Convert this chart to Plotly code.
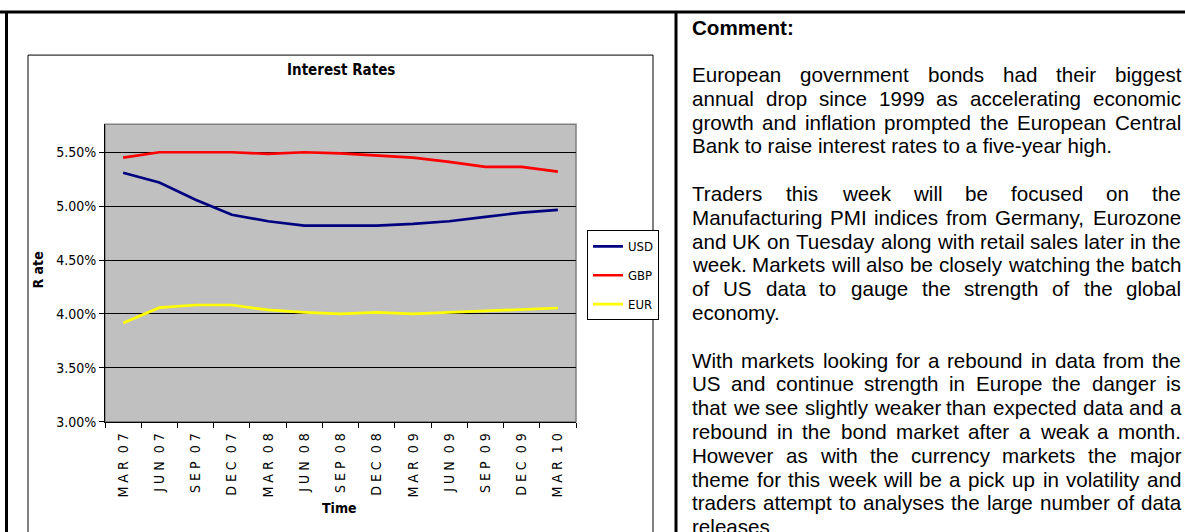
import plotly.graph_objects as go

# ---------------- data ----------------
categories = ["MAR 07", "JUN 07", "SEP 07", "DEC 07", "MAR 08", "JUN 08", "SEP 08",
              "DEC 08", "MAR 09", "JUN 09", "SEP 09", "DEC 09", "MAR 10"]
usd = [5.31, 5.22, 5.06, 4.92, 4.86, 4.82, 4.82, 4.82, 4.835, 4.86, 4.90, 4.94, 4.965]
gbp = [5.45, 5.50, 5.50, 5.50, 5.485, 5.50, 5.49, 5.47, 5.45, 5.41, 5.365, 5.365, 5.32]
eur = [3.915, 4.058, 4.083, 4.083, 4.037, 4.015, 4.00, 4.015, 4.00, 4.015, 4.028, 4.04, 4.055]
series_names = ["USD", "GBP", "EUR"]
y_tick_values = [3.0, 3.5, 4.0, 4.5, 5.0, 5.5]
y_tick_labels = ["3.00%", "3.50%", "4.00%", "4.50%", "5.00%", "5.50%"]
chart_title = "Interest Rates"
x_title = "Time"
y_title = "Rate"
comment_heading = "Comment:"
comment_paragraphs = [
    ["European government bonds had their biggest",
     "annual drop since 1999 as accelerating economic",
     "growth and inflation prompted the European Central",
     "Bank to raise interest rates to a five-year high."],
    ["Traders this week will be focused on the",
     "Manufacturing PMI indices from Germany, Eurozone",
     "and UK on Tuesday along with retail sales later in the",
     "week. Markets will also be closely watching the batch",
     "of US data to gauge the strength of the global",
     "economy."],
    ["With markets looking for a rebound in data from the",
     "US and continue strength in Europe the danger is",
     "that we see slightly weaker than expected data and a",
     "rebound in the bond market after a weak a month.",
     "However as with the currency markets the major",
     "theme for this week will be a pick up in volatility and",
     "traders attempt to analyses the large number of data",
     "releases"],
]

# ---------------- layout helpers ----------------
FW, FH = 1185, 532
VS = 1.017  # vertical calibration


def px(x):
    return x / FW


def py(y):
    return 1 - (y * VS) / FH


NARROW = "Liberation Sans Narrow, Arial Narrow, DejaVu Sans Condensed, sans-serif"
SANS = "Liberation Sans, Arial, sans-serif"

colors = ["#000080", "#FF0000", "#FFFF00"]


def spaced(label):
    # letter-spaced category label, as drawn in the original chart
    return "  ".join(" ".join(part) for part in label.split(" "))


fig = go.Figure()
for name, vals, col in zip(series_names, [usd, gbp, eur], colors):
    fig.add_trace(go.Scatter(x=categories, y=vals, mode="lines", name=name,
                             legendgroup=name,
                             line=dict(color=col, width=2.7)))

fig.update_layout(
    width=FW, height=FH,
    margin=dict(l=0, r=0, t=0, b=0),
    paper_bgcolor="white",
    plot_bgcolor="#C0C0C0",
    showlegend=True,
    legend=dict(x=px(587), y=py(230), xanchor="left", yanchor="top",
                bordercolor="black", borderwidth=1, bgcolor="white",
                font=dict(family=NARROW, size=13, color="black"),
                tracegroupgap=9, itemwidth=30),
    xaxis=dict(domain=[px(105), px(576)], type="category",
               range=[-0.5, len(categories) - 0.5],
               tickmode="array", tickvals=categories,
               ticktext=[spaced(c) for c in categories],
               tickangle=-90, ticks="outside", tickson="boundaries",
               ticklen=5, tickcolor="black", tickwidth=1,
               showline=True, linecolor="black", linewidth=1,
               showgrid=False, zeroline=False,
               tickfont=dict(family=NARROW, size=14, color="black"),
               ticklabelstandoff=5),
    yaxis=dict(domain=[py(421), py(124)], range=[3.0, 5.76],
               tickmode="array", tickvals=y_tick_values, ticktext=y_tick_labels,
               ticks="outside", ticklen=5, tickcolor="black", tickwidth=1,
               showline=True, linecolor="black", linewidth=1,
               showgrid=True, gridcolor="black", gridwidth=1,
               zeroline=False,
               tickfont=dict(family=NARROW, size=14, color="black")),
)

shapes = [
    dict(type="rect", xref="x domain", yref="y domain", x0=0, x1=1, y0=0, y1=1,
         line=dict(color="#808080", width=1.5), layer="below"),
    dict(type="rect", xref="paper", yref="paper", x0=px(28), x1=px(653), y0=py(560), y1=py(55),
         line=dict(color="black", width=1)),
    dict(type="line", xref="paper", yref="paper", x0=0, x1=1, y0=py(12), y1=py(12),
         line=dict(color="black", width=3)),
    dict(type="line", xref="paper", yref="paper", x0=px(6.5), x1=px(6.5), y0=py(12), y1=py(560),
         line=dict(color="black", width=3)),
    dict(type="line", xref="paper", yref="paper", x0=px(676), x1=px(676), y0=py(12), y1=py(560),
         line=dict(color="black", width=3)),
]
fig.update_layout(shapes=shapes)

ann = []
ann.append(dict(text="<b>" + chart_title + "</b>", x=px(341), y=py(70), xref="paper", yref="paper",
                xanchor="center", yanchor="middle",
                showarrow=False, font=dict(family=NARROW, size=15, color="black")))
ann.append(dict(text="<b>" + x_title + "</b>", x=px(339), y=py(507), xref="paper", yref="paper",
                xanchor="center", yanchor="middle",
                showarrow=False, font=dict(family=NARROW, size=14, color="black")))
ann.append(dict(text="<b>" + y_title[0] + " " + y_title[1:] + "</b>", x=px(38), y=py(270),
                xref="paper", yref="paper", textangle=-90, xanchor="center", yanchor="middle",
                showarrow=False, font=dict(family=NARROW, size=14, color="black")))

# ---------------- justified comment text ----------------
AW = {' ': 278, 'a': 556, 'b': 556, 'c': 500, 'd': 556, 'e': 556, 'f': 278, 'g': 556, 'h': 556,
      'i': 222, 'j': 222, 'k': 500, 'l': 222, 'm': 833, 'n': 556, 'o': 556, 'p': 556, 'q': 556,
      'r': 333, 's': 500, 't': 278, 'u': 556, 'v': 500, 'w': 722, 'x': 500, 'y': 500, 'z': 500,
      'A': 667, 'B': 667, 'C': 722, 'D': 722, 'E': 667, 'F': 611, 'G': 778, 'H': 722, 'I': 278,
      'J': 500, 'K': 667, 'L': 556, 'M': 833, 'N': 722, 'O': 778, 'P': 667, 'Q': 778, 'R': 722,
      'S': 667, 'T': 611, 'U': 722, 'V': 667, 'W': 944, 'X': 667, 'Y': 667, 'Z': 611,
      '.': 278, ',': 278, '-': 333, ':': 278}


def text_w(s, fs):
    return sum(AW.get(ch, 556) for ch in s) * fs / 1000.0


FS = 20.6
X0, X1 = 691, 1180
Y0, LH = 27, 23.75

ann.append(dict(text="<b>" + comment_heading + "</b>", x=px(X0), y=py(Y0), xref="paper", yref="paper",
                xanchor="left", yanchor="middle", showarrow=False, borderpad=0,
                font=dict(family=SANS, size=FS, color="black")))
k = 2
for para in comment_paragraphs:
    for i, line in enumerate(para):
        yy = Y0 + k * LH
        last = (i == len(para) - 1)
        words = line.split()
        if last or len(words) == 1:
            ann.append(dict(text=line, x=px(X0), y=py(yy), xref="paper", yref="paper",
                            xanchor="left", yanchor="middle", showarrow=False, borderpad=0,
                            font=dict(family=SANS, size=FS, color="black")))
        else:
            ws = [text_w(w, FS) for w in words]
            gap = (X1 - X0 - sum(ws)) / (len(words) - 1)
            xx = X0
            for w, wd in zip(words, ws):
                ann.append(dict(text=w, x=px(xx), y=py(yy), xref="paper", yref="paper",
                                xanchor="left", yanchor="middle", showarrow=False, borderpad=0,
                                font=dict(family=SANS, size=FS, color="black")))
                xx += wd + gap
        k += 1
    k += 1

fig.update_layout(annotations=ann)

fig.write_html("out.html", config={"displayModeBar": False},
               post_script="document.body.style.margin='0';document.body.style.overflow='hidden';")
